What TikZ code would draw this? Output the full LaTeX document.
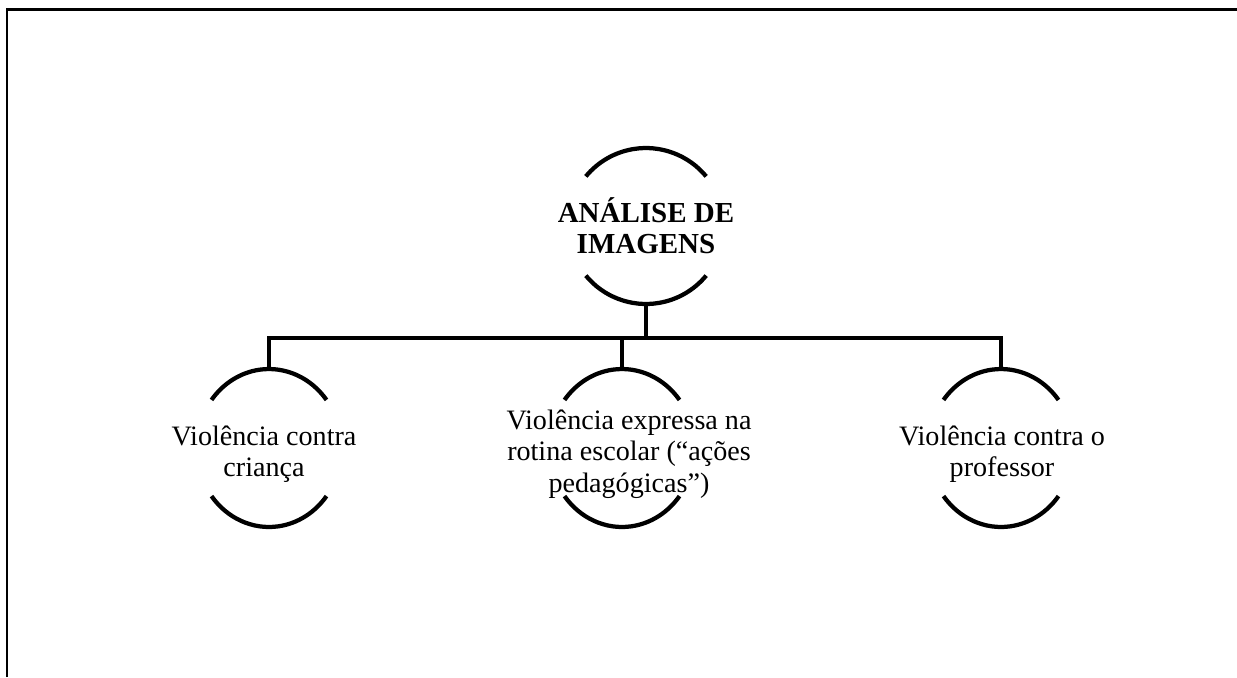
\documentclass[tikz,border=0pt]{standalone}
\usepackage{fontspec}
\setmainfont{Liberation Serif}
\usetikzlibrary{calc}

\tikzset{
  rootbox/.style={align=center,inner sep=0pt,font=\fontsize{16.5}{17.5}\selectfont\bfseries},
  leafbox/.style={align=center,inner sep=0pt,font=\fontsize{16}{17.8}\selectfont},
  link/.style={line width=0.085cm}
}

\begin{document}
\begin{tikzpicture}[x=0.02cm,y=0.02cm]
\useasboundingbox (0,0) rectangle (1237,-677);
\draw[line width=0.06cm] (7,-677) -- (7,-9) -- (1237,-9);

% centres of the arc pairs
\coordinate (root) at (646,-226);
\coordinate (kid1) at (269,-448);
\coordinate (kid2) at (622,-448);
\coordinate (kid3) at (1001,-448);

\node[rootbox] (root-txt) at (root) {ANÁLISE DE\\IMAGENS};
\node[leafbox] (kid1-txt) at ([shift={(-5,-6)}]kid1) {Violência contra\\criança};
\node[leafbox] (kid2-txt) at ([shift={(7,-6)}]kid2) {Violência expressa na\\rotina escolar (“ações\\pedagógicas”)};
\node[leafbox] (kid3-txt) at ([shift={(1,-6)}]kid3) {Violência contra o\\professor};

\begin{scope}[link]
  \draw ([shift={(39.5:1.56cm)}]root) arc[start angle=39.5,end angle=140.5,radius=1.56cm];
  \draw ([shift={(219.5:1.56cm)}]root) arc[start angle=219.5,end angle=320.5,radius=1.56cm];
  \foreach \k in {kid1,kid2,kid3} {
    \draw ([shift={(37.5:1.45cm and 1.58cm)}]\k) arc[start angle=37.5,end angle=142.5,x radius=1.45cm,y radius=1.58cm];
    \draw ([shift={(217.5:1.45cm and 1.58cm)}]\k) arc[start angle=217.5,end angle=322.5,x radius=1.45cm,y radius=1.58cm];
    \coordinate (\k-n) at ([yshift=1.58cm]\k);
  }
  \coordinate (root-s) at ([yshift=-1.56cm]root);
  \coordinate (bus) at (0,-338);
  \draw (root-s) -- (root-s |- bus);
  \draw (kid1-n) -- (kid1-n |- bus) -- (kid3-n |- bus) -- (kid3-n);
  \draw (kid2-n) -- (kid2-n |- bus);
\end{scope}

\end{tikzpicture}
\end{document}
